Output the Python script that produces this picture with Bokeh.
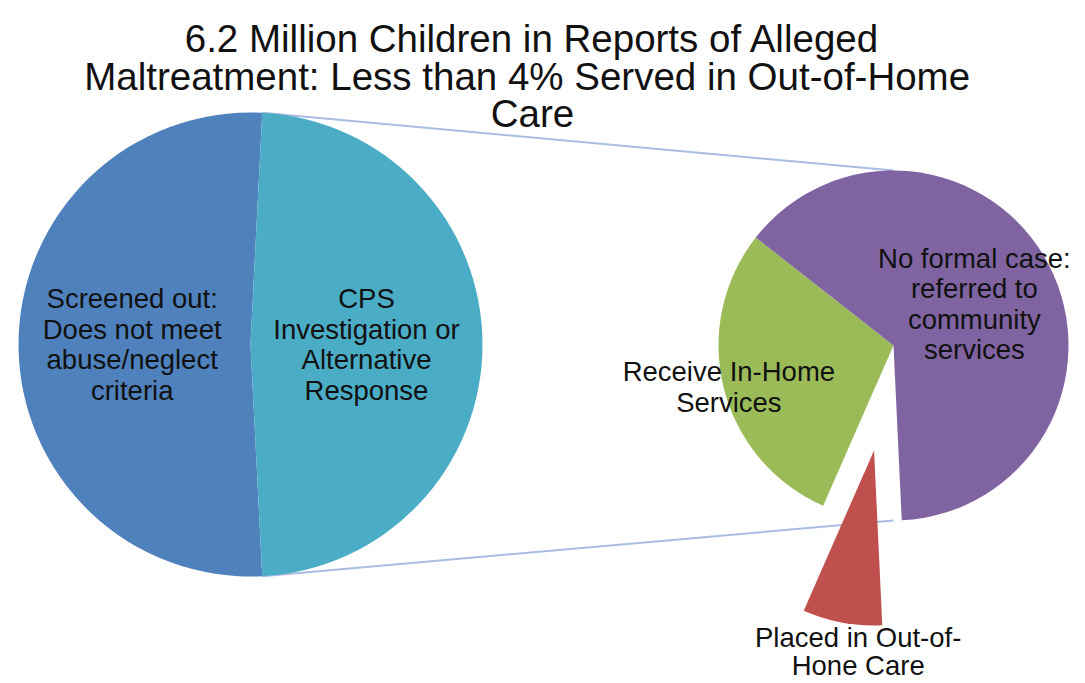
import numpy as np
from bokeh.plotting import figure
from bokeh.models import Range1d
from bokeh.embed import file_html
from bokeh.resources import INLINE
from bokeh.core.properties import value

# ---------------- data ----------------
title_lines = ["6.2 Million Children in Reports of Alleged",
               "Maltreatment: Less than 4% Served  in Out-of-Home",
               "Care"]

main_label_lines = [["Screened out:", "Does not meet", "abuse/neglect", "criteria"],
                    ["CPS", "Investigation or", "Alternative", "Response"]]
main_values = [3.2, 3.0]          # millions of children
main_colors = ["#4F81BD", "#4BACC6"]

sub_label_lines = [["Placed in Out-of-", "Hone Care"],
                   ["Receive In-Home", "Services"],
                   ["No formal case:", "referred to", "community", "services"]]
sub_values = [0.22, 0.87, 1.91]   # millions of children (split of CPS slice)
sub_colors = ["#C0504D", "#9BBB59", "#8064A2"]

# ---------------- layout (image pixel coordinates, y down) ----------------
PAGE_H = 683
W, H = 1077, 683
C1 = (250.0, 344.0); R1 = 232.0
C2 = (893.0, 345.0); R2 = 175.0
SUB_START_CW = 177.3          # where first sub slice starts (deg clockwise from 12 o'clock)
EXPLODE = [0.61, 0.0, 0.0]    # fraction of R2
main_label_r = [0.51, 0.50]
sub_label_r = [1.155, 0.97, 0.52]
sub_label_dang = [-6.0, 0.0, 0.0]
sub_line_h = [28.0, 30.5, 30.5]
LINE_H = 30.5
TITLE_CENTER = (532.0, 75.5)
TITLE_LINE_H = 37.5
FONT = value("Liberation Sans")


def Y(img_y):
    return PAGE_H - img_y


def pt(c, r, cw_deg):
    t = np.radians(cw_deg)
    return c[0] + r * np.sin(t), c[1] - r * np.cos(t)


p = figure(width=W, height=H, x_range=Range1d(0, W), y_range=Range1d(PAGE_H - H, PAGE_H),
           output_backend="svg", toolbar_location=None, min_border=0)
p.xaxis.visible = False
p.yaxis.visible = False
p.xgrid.visible = False
p.ygrid.visible = False
p.outline_line_color = None
p.background_fill_color = "white"
p.border_fill_color = "white"

# ---- main pie spans (clockwise from top); "other" slice centred at 90 deg ----
mv = np.array(main_values, dtype=float)
mfr = mv / mv.sum()
other_span = mfr[1] * 360.0
o_start = 90.0 - other_span / 2
o_end = 90.0 + other_span / 2
main_spans = [(o_end, o_start + 360.0), (o_start, o_end)]

# ---- sub pie spans ----
sv = np.array(sub_values, dtype=float)
sfr = sv / sv.sum()
edges = SUB_START_CW + np.concatenate([[0], np.cumsum(sfr) * 360.0])
sub_spans = [(edges[i], edges[i + 1]) for i in range(len(sv))]

# ---- connector lines ----
a = pt(C1, R1, o_start)
b = pt(C1, R1, o_end)
top2 = (C2[0], C2[1] - R2)
bot2 = (C2[0], C2[1] + R2)
p.segment(x0=[a[0], b[0]], y0=[Y(a[1]), Y(b[1])], x1=[top2[0], bot2[0]], y1=[Y(top2[1]), Y(bot2[1])],
          line_color="#A9BCE4", line_width=2)

# ---- main wedges ----
p.wedge(x=[C1[0]] * 2, y=[Y(C1[1])] * 2, radius=R1,
        start_angle=[np.radians(90 - s[1]) for s in main_spans],
        end_angle=[np.radians(90 - s[0]) for s in main_spans],
        fill_color=main_colors, line_color=None)

# ---- sub wedges ----
sx, sy = [], []
for i, (s0, s1) in enumerate(sub_spans):
    c = pt(C2, EXPLODE[i] * R2, (s0 + s1) / 2)
    sx.append(c[0]); sy.append(Y(c[1]))
p.wedge(x=sx, y=sy, radius=R2,
        start_angle=[np.radians(90 - s[1]) for s in sub_spans],
        end_angle=[np.radians(90 - s[0]) for s in sub_spans],
        fill_color=sub_colors, line_color=None)

# ---- labels ----
tx, ty, tt = [], [], []


def add_block(cx, cy, lines, lh):
    n = len(lines)
    for k, ln in enumerate(lines):
        tx.append(cx)
        ty.append(Y(cy + (k - (n - 1) / 2) * lh))
        tt.append(ln)


for i, (s0, s1) in enumerate(main_spans):
    c = pt(C1, main_label_r[i] * R1, (s0 + s1) / 2)
    add_block(c[0], c[1], main_label_lines[i], LINE_H)

for i, (s0, s1) in enumerate(sub_spans):
    ec = pt(C2, EXPLODE[i] * R2, (s0 + s1) / 2)
    c = pt(ec, sub_label_r[i] * R2, (s0 + s1) / 2 + sub_label_dang[i])
    add_block(c[0], c[1], sub_label_lines[i], sub_line_h[i])

p.text(x=tx, y=ty, text=tt, text_align="center", text_baseline="middle",
       text_font=FONT, text_font_size="27.5px", text_color="#111111")

# ---- title ----
ttx, tty = [], []
n = len(title_lines)
for k in range(n):
    ttx.append(TITLE_CENTER[0])
    tty.append(Y(TITLE_CENTER[1] + (k - (n - 1) / 2) * TITLE_LINE_H))
p.text(x=ttx, y=tty, text=title_lines, text_align="center", text_baseline="middle",
       text_font=FONT, text_font_size="38.5px", text_color="#111111")

open("out.html", "w").write(file_html(p, INLINE))
